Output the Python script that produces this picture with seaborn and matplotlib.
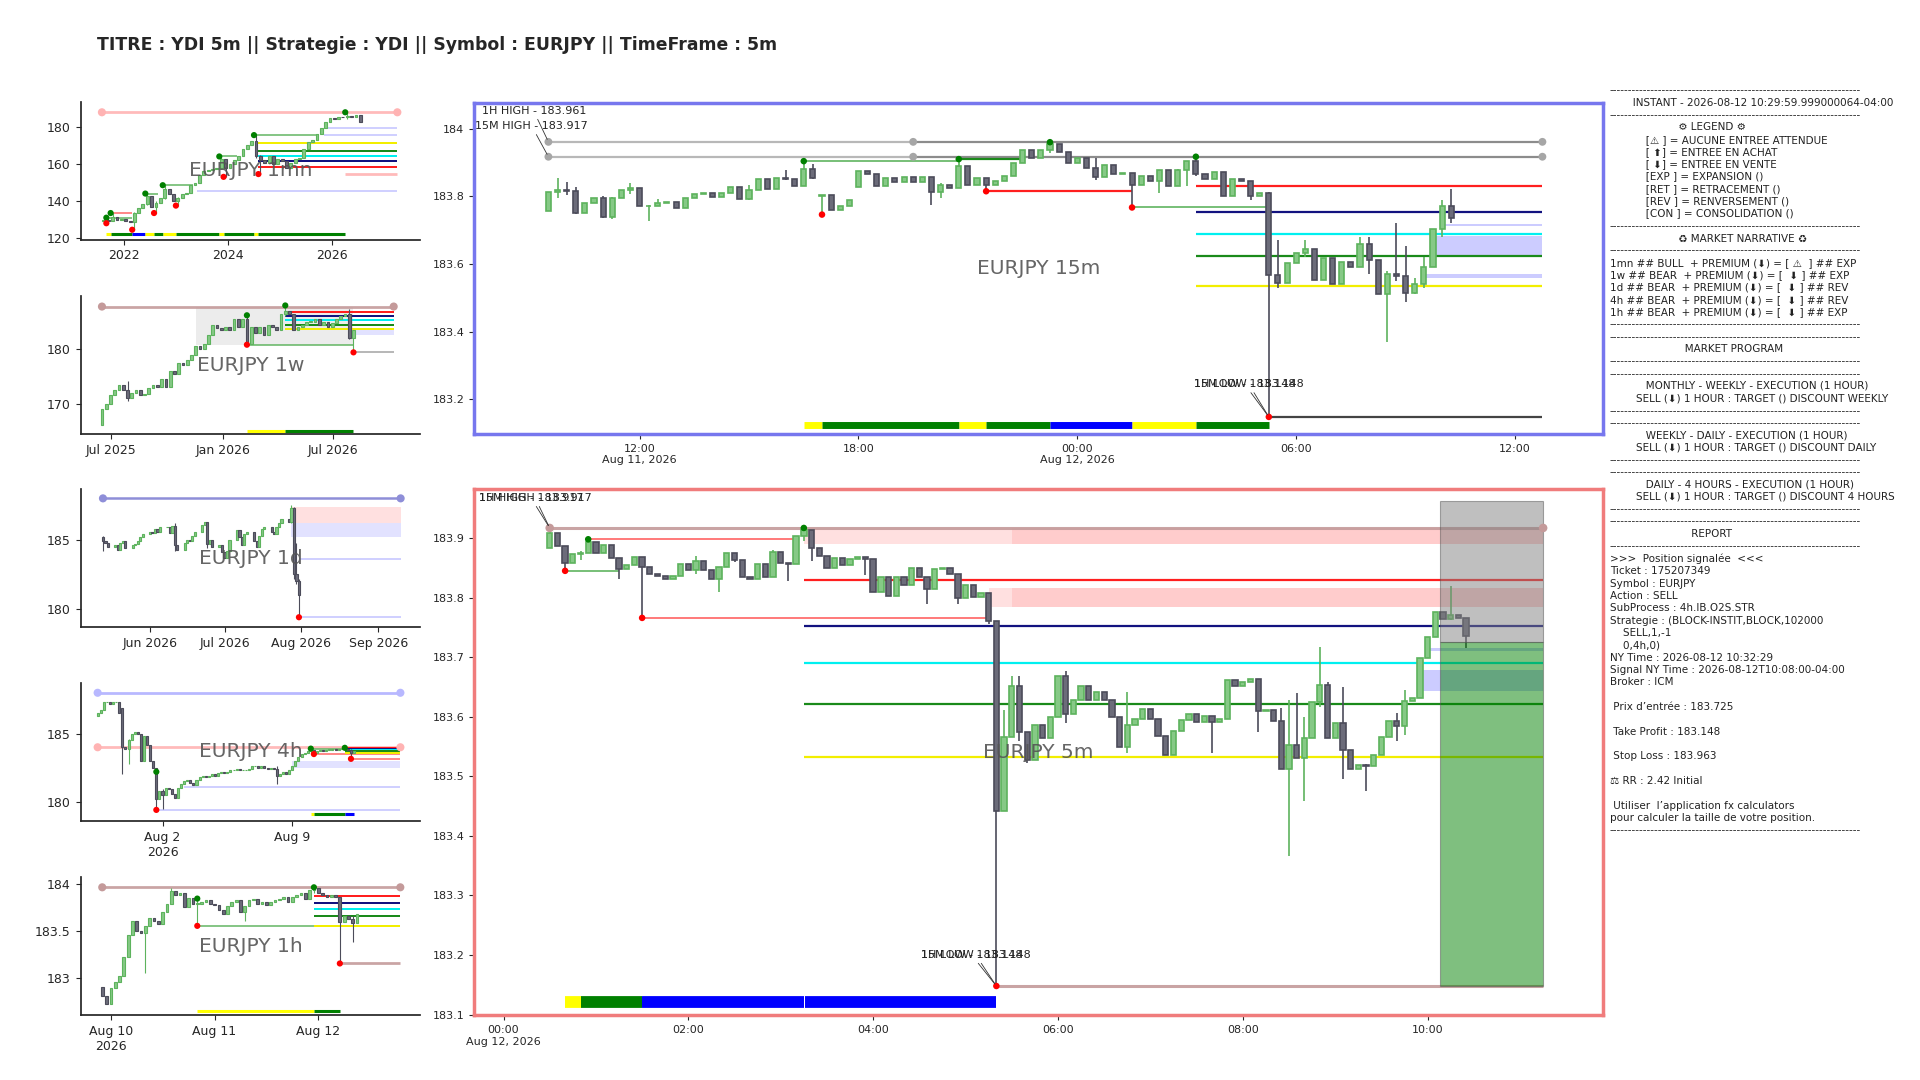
import numpy as np
import pandas as pd
import matplotlib
matplotlib.use("Agg")
import matplotlib.pyplot as plt
import matplotlib.dates as mdates
from matplotlib.ticker import MultipleLocator, FuncFormatter
from matplotlib.patches import Rectangle
from matplotlib import font_manager
from matplotlib.ft2font import FT2Font
import seaborn as sns

# --- Données ---
SYMBOL = "EURJPY"
TITLE = "TITRE : YDI 5m || Strategie : YDI || Symbol : EURJPY || TimeFrame : 5m"
DAY = "2026-08-12 "

# 15m : cloture de chaque bougie, depuis 2026-08-11 09:30
T15_START = "2026-08-11 09:30"
close_15m = [183.812, 183.820, 183.816, 183.752, 183.780, 183.794, 183.739, 183.794, 183.820, 183.824,
             183.770, 183.772, 183.780, 183.784, 183.765, 183.794, 183.806, 183.810, 183.797, 183.810,
             183.827, 183.792, 183.820, 183.852, 183.822, 183.854, 183.852, 183.830, 183.880, 183.854,
             183.805, 183.760, 183.770, 183.790, 183.874, 183.866, 183.830, 183.854, 183.842, 183.856,
             183.842, 183.856, 183.814, 183.834, 183.824, 183.889, 183.834, 183.854, 183.832, 183.844,
             183.860, 183.897, 183.937, 183.914, 183.937, 183.954, 183.932, 183.897, 183.914, 183.884,
             183.857, 183.894, 183.867, 183.870, 183.834, 183.859, 183.846, 183.877, 183.830, 183.879,
             183.904, 183.867, 183.852, 183.872, 183.802, 183.852, 183.846, 183.800, 183.809, 183.567,
             183.544, 183.604, 183.632, 183.644, 183.552, 183.617, 183.540, 183.607, 183.592, 183.660,
             183.612, 183.512, 183.570, 183.564, 183.514, 183.540, 183.592, 183.702, 183.770, 183.737]
open0_15m = 183.757
open_fix_15m = {30: 183.802, 34: 183.827}
wick_15m = {1: (183.854, 183.794), 2: (183.842, 183.805), 3: (183.827, 183.748), 6: (183.800, 183.735),
            7: (183.797, 183.732), 9: (183.838, 183.807), 11: (183.775, 183.727), 12: (183.792, 183.770),
            22: (183.832, 183.790), 26: (183.877, 183.848), 28: (183.904, 183.830), 29: (183.896, 183.850),
            30: (183.805, 183.746), 42: (183.856, 183.774), 43: (183.838, 183.794), 45: (183.910, 183.824),
            48: (183.838, 183.815), 55: (183.960, 183.928), 60: (183.912, 183.847), 64: (183.870, 183.767),
            67: (183.877, 183.810), 69: (183.880, 183.830), 70: (183.904, 183.830), 71: (183.917, 183.860),
            77: (183.815, 183.790), 79: (183.812, 183.148), 80: (183.672, 183.530), 83: (183.670, 183.620),
            89: (183.680, 183.600), 90: (183.680, 183.570), 92: (183.580, 183.370), 93: (183.720, 183.550),
            94: (183.652, 183.487), 95: (183.560, 183.510), 96: (183.620, 183.530), 98: (183.790, 183.680),
            99: (183.822, 183.720)}

# 5m : cloture de chaque bougie, depuis 2026-08-12 00:30
T5_START = DAY + "00:30"
close_5m = [183.908, 183.887, 183.859, 183.873, 183.875, 183.894, 183.875, 183.889, 183.867, 183.848, 183.854, 183.869,
            183.851, 183.840, 183.837, 183.832, 183.837, 183.856, 183.846, 183.861, 183.846, 183.831, 183.851, 183.875,
            183.864, 183.835, 183.831, 183.857, 183.834, 183.877, 183.858, 183.856, 183.903, 183.913, 183.884, 183.870,
            183.850, 183.866, 183.854, 183.865, 183.868, 183.865, 183.809, 183.834, 183.802, 183.834, 183.821, 183.850,
            183.835, 183.815, 183.848, 183.850, 183.839, 183.799, 183.822, 183.801, 183.807, 183.761, 183.441, 183.566,
            183.651, 183.575, 183.528, 183.586, 183.564, 183.600, 183.668, 183.604, 183.629, 183.652, 183.629, 183.641,
            183.629, 183.599, 183.549, 183.586, 183.597, 183.613, 183.597, 183.567, 183.536, 183.576, 183.594, 183.604,
            183.591, 183.602, 183.591, 183.597, 183.662, 183.652, 183.658, 183.664, 183.609, 183.612, 183.593, 183.512,
            183.553, 183.530, 183.565, 183.624, 183.654, 183.564, 183.589, 183.544, 183.512, 183.519, 183.517, 183.536,
            183.566, 183.593, 183.585, 183.626, 183.631, 183.698, 183.734, 183.776, 183.764, 183.771, 183.766, 183.736]
open0_5m = 183.884
wick_5m = {"00:30": (183.917, 183.884), "00:40": (183.887, 183.845), "00:50": (183.879, 183.863),
           "00:55": (183.898, 183.875), "01:15": (183.850, 183.832), "01:30": (183.869, 183.766),
           "02:05": (183.870, 183.840), "02:20": (183.851, 183.809), "02:30": (183.872, 183.860),
           "02:55": (183.880, 183.834), "03:05": (183.858, 183.828), "03:15": (183.917, 183.895),
           "03:20": (183.913, 183.862), "03:55": (183.868, 183.838), "04:35": (183.835, 183.789),
           "04:55": (183.839, 183.790), "05:15": (183.807, 183.755), "05:20": (183.761, 183.148),
           "05:25": (183.612, 183.441), "05:30": (183.668, 183.566), "05:35": (183.668, 183.560),
           "05:40": (183.575, 183.523), "06:05": (183.677, 183.590), "06:45": (183.641, 183.540),
           "07:40": (183.591, 183.540), "08:10": (183.664, 183.575), "08:25": (183.615, 183.512),
           "08:30": (183.628, 183.367), "08:35": (183.640, 183.530), "08:40": (183.600, 183.458),
           "08:50": (183.717, 183.616), "08:55": (183.659, 183.573), "09:05": (183.650, 183.496),
           "09:20": (183.520, 183.475), "09:40": (183.607, 183.560), "09:45": (183.645, 183.570),
           "10:15": (183.820, 183.763), "10:25": (183.766, 183.715)}

# unites superieures
T1MN_START = "2021-08-01"
close_1mn = [129.5, 129.0, 131.5, 129.8, 130.5,
             129.0, 128.5, 133.5, 136.0, 138.5, 142.5, 136.5, 139.0, 141.5, 146.5, 143.5, 140.0,
             141.5, 144.0, 144.5, 148.5, 149.5, 154.0, 156.0, 156.5, 157.5, 158.0, 162.5, 158.0,
             160.0, 162.0, 164.0, 168.0, 170.0, 172.5, 164.5, 162.0, 160.5, 164.0, 160.0, 162.5,
             161.5, 158.0, 160.5, 162.5, 163.0, 168.0, 172.0, 173.0, 176.0, 179.5, 182.5, 184.5,
             184.0, 185.5, 185.0, 186.0, 185.5, 186.5, 182.5]
wick_1mn = {1: (131.0, 128.0), 2: (133.5, 129.0), 7: (134.0, 124.5), 10: (144.0, 138.0), 12: (140.0, 133.5),
            14: (148.5, 141.0), 17: (142.0, 137.5), 27: (164.0, 157.0), 28: (160.5, 153.0),
            35: (175.5, 163.0), 36: (165.0, 154.5), 56: (187.8, 184.0)}

T1W_START = "2025-06-16"
close_1w = [169.0, 170.0, 171.5, 172.5, 173.5, 172.5, 171.0, 172.0, 172.5, 171.5,
            171.8, 172.8, 173.5, 173.0, 174.5, 173.0, 176.0, 175.5, 177.5, 177.0,
            178.0, 179.0, 180.5, 180.0, 181.0, 182.5, 184.5, 183.8, 183.5, 184.0,
            183.5, 185.5, 184.0, 185.5, 181.0, 184.0, 183.0, 184.0, 182.5, 184.5,
            184.0, 183.5, 186.5, 187.0, 186.5, 183.5, 184.0, 184.5, 185.0, 185.0,
            185.5, 184.5, 185.0, 184.0, 184.8, 185.5, 186.0, 186.5, 182.0, 183.5]
wick_1w = {6: (174.2, 170.5), 34: (186.2, 180.8), 43: (188.0, 186.0), 58: (187.3, 181.8), 59: (183.5, 179.4)}

T1D_START = "2026-05-13"
close_1d = [184.9, 184.8, 184.5, 184.6, 184.3, 184.8, 184.9, 184.4, 184.6, 184.7, 184.9, 185.2, 185.4,
            185.6, 185.5, 185.8, 185.6, 185.9, 185.9, 185.5, 186.0, 184.6, 184.3, 184.8, 185.0, 184.9,
            185.3, 185.6, 186.1, 186.3, 184.7, 185.0, 184.5, 184.6, 184.1,
            183.7, 184.2, 185.0, 185.7, 185.2, 184.6, 185.4, 185.6, 184.9, 184.5, 185.3, 185.8, 185.9,
            185.6, 185.4, 185.9, 186.2, 186.5, 186.3, 187.3, 182.5, 182.0, 181.0]
wick_1d = {0: (185.3, 184.2), 21: (186.2, 184.2), 30: (186.3, 184.4), 54: (187.5, 186.2),
           55: (187.4, 182.2), 56: (184.8, 181.8), 57: (182.2, 179.4)}

T4H_START = "2026-07-29 12:00"
close_4h = [186.5, 186.7, 187.3, 187.3, 187.2, 187.3, 187.3, 186.5, 184.0, 183.9,
            184.5, 185.0, 185.1, 185.0, 183.0, 184.8, 184.2, 183.0, 182.5, 180.2,
            180.8, 180.5, 181.0, 180.9, 180.6, 180.3, 181.0, 181.3, 181.5, 181.6,
            181.4, 181.2, 181.6, 181.8, 181.9, 181.8, 181.9, 182.0, 181.9, 182.1,
            182.2, 182.1, 182.2, 182.3, 182.3, 182.4, 182.3, 182.3, 182.35, 182.4,
            182.6, 182.6, 182.5, 182.6, 182.5, 182.4, 182.5, 182.4, 181.9, 182.0,
            182.2, 182.0, 182.3, 182.6, 183.0, 183.3, 183.5, 183.6, 183.7, 183.8,
            183.6, 183.7, 183.8, 183.75, 183.8, 183.8, 183.85, 183.8, 183.85, 183.9,
            183.85, 183.8, 183.6, 183.7]
open_fix_4h = {8: 186.9}
wick_4h = {8: (186.9, 182.0), 10: (184.6, 182.8), 19: (182.2, 179.4), 21: (180.9, 179.5), 58: (182.6, 181.3),
           69: (183.9, 183.6), 70: (183.8, 183.5), 80: (183.96, 183.8), 82: (183.85, 183.15)}

T1H_START = "2026-08-09 22:00"
close_1h = [182.80, 182.72, 182.89, 182.95, 183.02, 183.22, 183.45, 183.60, 183.50, 183.47,
            183.55, 183.63, 183.60, 183.57, 183.70, 183.78, 183.92, 183.88, 183.90, 183.75,
            183.85, 183.78, 183.78, 183.80, 183.82, 183.78, 183.77, 183.72, 183.68, 183.76,
            183.80, 183.82, 183.70, 183.76, 183.82, 183.84, 183.78, 183.80, 183.77, 183.80,
            183.82, 183.84, 183.86, 183.80, 183.86, 183.88, 183.90, 183.84, 183.93, 183.95,
            183.90, 183.88, 183.86, 183.88, 183.86, 183.59, 183.65, 183.62, 183.58, 183.68]
wick_1h = {10: (183.55, 183.05), 16: (183.95, 183.78), 22: (183.84, 183.55), 33: (183.76, 183.60),
           49: (183.96, 183.90), 55: (183.86, 183.15), 58: (183.66, 183.38)}

# niveaux : (prix, debut, fin, type)
E15 = "2026-08-12 12:45"
levels_15m = [(183.961, "2026-08-11 09:30", "2026-08-11 19:30", "gray"),
              (183.961, "2026-08-11 19:30", E15, "dgray"),
              (183.917, "2026-08-11 09:30", "2026-08-11 19:30", "gray"),
              (183.917, "2026-08-11 19:30", E15, "dgray"),
              (183.904, "2026-08-11 16:30", "2026-08-11 20:45", "lgreen"),
              (183.910, "2026-08-11 20:45", "2026-08-11 22:30", "green"),
              (183.815, "2026-08-11 21:30", "2026-08-12 01:30", "red"),
              (183.767, "2026-08-12 01:30", "2026-08-12 05:15", "lgreen"),
              (183.830, "2026-08-12 03:15", E15, "red"),
              (183.754, "2026-08-12 03:15", E15, "navy"),
              (183.690, "2026-08-12 03:15", E15, "cyan"),
              (183.625, "2026-08-12 03:15", E15, "green"),
              (183.535, "2026-08-12 03:15", E15, "yellow"),
              (183.148, "2026-08-12 05:15", E15, "black")]
zones_15m = [(183.711, 183.717, "2026-08-12 10:00", E15, "lavz"),
             (183.627, 183.682, "2026-08-12 09:45", E15, "lavz"),
             (183.560, 183.570, "2026-08-12 09:30", E15, "lavz")]
dots_15m = [("2026-08-11 09:30", 183.961, "gray"), ("2026-08-11 19:30", 183.961, "gray"), (E15, 183.961, "gray"),
            ("2026-08-11 09:30", 183.917, "gray"), ("2026-08-11 19:30", 183.917, "gray"), (E15, 183.917, "gray"),
            ("2026-08-11 16:30", 183.904, "up"), ("2026-08-11 20:45", 183.910, "up"),
            ("2026-08-11 23:15", 183.960, "up"), ("2026-08-12 03:15", 183.917, "up"),
            ("2026-08-11 17:00", 183.746, "dn"), ("2026-08-11 21:30", 183.815, "dn"),
            ("2026-08-12 01:30", 183.767, "dn"), ("2026-08-12 05:15", 183.148, "dn")]
bar_15m = [("2026-08-11 16:30", "2026-08-11 17:00", "Y"), ("2026-08-11 17:00", "2026-08-11 20:45", "G"),
           ("2026-08-11 20:45", "2026-08-11 21:30", "Y"), ("2026-08-11 21:30", "2026-08-11 23:15", "G"),
           ("2026-08-11 23:15", "2026-08-12 01:30", "B"), ("2026-08-12 01:30", "2026-08-12 03:15", "Y"),
           ("2026-08-12 03:15", "2026-08-12 05:15", "G")]
bar_y_15m = 183.125
notes_15m = [("1H HIGH - 183.961", "2026-08-11 07:40", 184.052, "2026-08-11 09:30", 183.961),
             ("15M HIGH - 183.917", "2026-08-11 07:30", 184.007, "2026-08-11 09:30", 183.917),
             ("1H LOW - 183.148", "2026-08-12 03:12", 183.244, "2026-08-12 05:15", 183.148),
             ("15M LOW - 183.148", "2026-08-12 03:12", 183.244, "2026-08-12 05:15", 183.148)]

E5 = DAY + "11:15"
levels_5m = [(183.917, DAY + "00:30", E5, "rosy"),
             (183.898, DAY + "00:55", DAY + "03:10", "lred"),
             (183.845, DAY + "00:40", DAY + "01:15", "lgreen"),
             (183.766, DAY + "01:30", DAY + "05:15", "lred"),
             (183.829, DAY + "03:15", E5, "red"),
             (183.752, DAY + "03:15", E5, "navy"),
             (183.690, DAY + "03:15", E5, "cyan"),
             (183.622, DAY + "03:15", E5, "green"),
             (183.533, DAY + "03:15", E5, "yellow"),
             (183.148, DAY + "05:20", E5, "rosy")]
zones_5m = [(183.890, 183.917, DAY + "03:15", DAY + "05:30", "pinkz"),
            (183.890, 183.917, DAY + "05:30", E5, "pinkz2"),
            (183.785, 183.816, DAY + "05:15", DAY + "05:30", "pinkz"),
            (183.785, 183.816, DAY + "05:30", E5, "pinkz2"),
            (183.644, 183.679, DAY + "09:55", E5, "lavz"),
            (183.711, 183.715, DAY + "10:00", E5, "lavz")]
dots_5m = [(DAY + "00:30", 183.917, "rosy"), (E5, 183.917, "rosy"), (DAY + "00:40", 183.845, "dn"),
           (DAY + "00:55", 183.898, "up"), (DAY + "01:30", 183.766, "dn"), (DAY + "03:15", 183.917, "up"),
           (DAY + "05:20", 183.148, "dn")]
bar_5m = [(DAY + "00:40", DAY + "00:50", "Y"), (DAY + "00:50", DAY + "01:30", "G"),
          (DAY + "01:30", DAY + "03:15", "B"), (DAY + "03:16", DAY + "05:20", "B")]
bar_y_5m = 183.121
notes_5m = [("15M HIGH - 183.917", "2026-08-11 23:44", 183.967, DAY + "00:30", 183.917),
            ("1H HIGH - 183.917", "2026-08-11 23:44", 183.967, DAY + "00:30", 183.917),
            ("15M LOW - 183.148", DAY + "04:31", 183.200, DAY + "05:20", 183.148),
            ("1H LOW - 183.148", DAY + "04:31", 183.200, DAY + "05:20", 183.148)]
ENTRY, TAKE_PROFIT, STOP_LOSS = 183.725, 183.148, 183.963
SIGNAL_TIME = DAY + "10:08"

E1MN = "2027-04-01"
levels_1mn = [(187.8, "2021-08-01", E1MN, "pink"), (179.2, "2025-11-01", E1MN, "lav"),
              (175.5, "2025-11-01", E1MN, "lav"), (145.5, "2023-06-01", E1MN, "lav"),
              (171.0, "2024-08-01", E1MN, "yellow"), (167.0, "2024-08-01", E1MN, "green"),
              (164.3, "2024-08-01", E1MN, "cyan"), (161.5, "2024-08-01", E1MN, "navy"),
              (158.2, "2024-08-01", E1MN, "red"), (154.3, "2026-04-01", E1MN, "pink"),
              (131.0, "2021-09-01", "2022-03-01", "lgreen"), (133.5, "2021-10-01", "2022-03-01", "lred"),
              (144.0, "2022-06-01", "2022-09-01", "lgreen"), (148.5, "2022-10-01", "2023-05-01", "lgreen"),
              (164.0, "2023-11-01", "2024-03-01", "lgreen"), (175.5, "2024-07-01", "2025-10-01", "lgreen")]
dots_1mn = [("2021-09-01", 131.0, "up"), ("2021-10-01", 133.5, "up"), ("2022-06-01", 144.0, "up"),
            ("2022-10-01", 148.5, "up"), ("2023-11-01", 164.0, "up"), ("2024-07-01", 175.5, "up"),
            ("2026-04-01", 187.8, "up"), ("2021-09-01", 128.0, "dn"), ("2022-03-01", 124.5, "dn"),
            ("2022-08-01", 133.5, "dn"), ("2023-01-01", 137.5, "dn"), ("2023-12-01", 153.0, "dn"),
            ("2024-08-01", 154.5, "dn"), ("2021-08-01", 187.8, "pink"), (E1MN, 187.8, "pink")]
bar_1mn = [("2021-09-01", "2021-10-01", "Y"), ("2021-10-01", "2022-03-01", "G"), ("2022-03-01", "2022-06-01", "B"),
           ("2022-06-01", "2022-08-01", "Y"), ("2022-08-01", "2022-10-01", "G"), ("2022-10-01", "2023-01-01", "Y"),
           ("2023-01-01", "2023-11-01", "G"), ("2023-11-01", "2023-12-01", "Y"), ("2023-12-01", "2024-07-01", "G"),
           ("2024-07-01", "2024-08-01", "Y"), ("2024-08-01", "2026-04-01", "G")]
bar_y_1mn = 122.0

E1W = "2026-10-08"
levels_1w = [(187.8, "2025-06-16", E1W, "rosy"), (186.8, "2026-04-13", E1W, "red"),
             (186.0, "2026-04-13", E1W, "navy"), (185.3, "2026-04-13", E1W, "cyan"),
             (184.5, "2026-04-13", E1W, "green"), (183.6, "2026-04-13", E1W, "yellow"),
             (180.8, "2026-02-09", "2026-08-03", "lgreen"), (179.4, "2026-08-03", E1W, "gray")]
zones_1w = [(180.8, 187.8, "2025-11-17", "2026-08-03", "grayz"), (182.6, 183.6, "2026-07-27", E1W, "lavz2")]
dots_1w = [("2026-02-09", 186.2, "up"), ("2026-04-13", 188.0, "up"), ("2026-02-09", 180.8, "dn"),
           ("2026-08-03", 179.4, "dn"), ("2025-06-16", 187.8, "rosy"), (E1W, 187.8, "rosy")]
bar_1w = [("2026-02-09", "2026-04-13", "Y"), ("2026-04-13", "2026-08-03", "G")]
bar_y_1w = 165.0

E1D = "2026-09-10"
levels_1d = [(188.0, "2026-05-13", E1D, "lavd"), (183.6, "2026-07-31", E1D, "lav"), (179.4, "2026-07-31", E1D, "lav")]
zones_1d = [(186.2, 187.4, "2026-07-28", E1D, "pinkz"), (185.2, 186.2, "2026-07-28", E1D, "lavz2")]
dots_1d = [("2026-07-31", 179.4, "dn"), ("2026-05-13", 188.0, "lavd"), (E1D, 188.0, "lavd")]

E4H = "2026-08-14 20:00"
levels_4h = [(188.0, T4H_START, E4H, "lavm"), (184.0, T4H_START, E4H, "pink"),
             (181.1, "2026-08-03 04:00", E4H, "lav"), (179.4, "2026-08-01 20:00", E4H, "lav"),
             (183.9, "2026-08-10 00:00", "2026-08-11 20:00", "lgreen"), (183.5, "2026-08-10 04:00", E4H, "lred"),
             (183.15, "2026-08-12 04:00", E4H, "lred"), (183.93, "2026-08-11 20:00", E4H, "red"),
             (183.85, "2026-08-11 20:00", E4H, "navy"), (183.78, "2026-08-11 20:00", E4H, "cyan"),
             (183.70, "2026-08-11 20:00", E4H, "green"), (183.60, "2026-08-11 20:00", E4H, "yellow")]
zones_4h = [(182.5, 183.0, "2026-08-09 00:00", E4H, "lavz2")]
dots_4h = [("2026-08-01 16:00", 182.2, "up"), ("2026-08-01 16:00", 179.4, "dn"), ("2026-08-10 00:00", 183.9, "up"),
           ("2026-08-10 04:00", 183.5, "dn"), ("2026-08-11 20:00", 183.96, "up"), ("2026-08-12 04:00", 183.15, "dn"),
           (T4H_START, 188.0, "lavm"), (E4H, 188.0, "lavm"), (T4H_START, 184.0, "pink"), (E4H, 184.0, "pink")]
bar_4h = [("2026-08-10 00:00", "2026-08-10 04:00", "Y"), ("2026-08-10 04:00", "2026-08-11 20:00", "G"),
          ("2026-08-11 20:00", "2026-08-12 08:00", "B")]
bar_y_4h = 179.1

E1H = "2026-08-12 19:00"
levels_1h = [(183.96, T1H_START, E1H, "rosy"), (183.55, "2026-08-10 20:00", E1H, "lgreen"),
             (183.87, "2026-08-11 23:00", E1H, "red"), (183.79, "2026-08-11 23:00", E1H, "navy"),
             (183.73, "2026-08-11 23:00", E1H, "cyan"), (183.65, "2026-08-11 23:00", E1H, "green"),
             (183.55, "2026-08-11 23:00", E1H, "yellow"), (183.15, "2026-08-12 05:00", E1H, "rosy")]
dots_1h = [("2026-08-10 20:00", 183.84, "up"), ("2026-08-10 20:00", 183.55, "dn"), ("2026-08-11 23:00", 183.96, "up"),
           ("2026-08-12 05:00", 183.15, "dn"), (T1H_START, 183.96, "rosy"), (E1H, 183.96, "rosy")]
bar_1h = [("2026-08-10 20:00", "2026-08-11 23:00", "Y"), ("2026-08-11 23:00", "2026-08-12 05:00", "G")]
bar_y_1h = 182.64

# --- Panneau texte ---
DASH = "-" * 67
report_lines = [
    DASH,
    "      \u23f1 INSTANT - 2026-08-12 10:29:59.999000064-04:00 \u23f1",
    DASH,
    "                     \u2754\u2699 LEGEND \u2699\u2754",
    "           [\u26a0 \U0001F441] = AUCUNE ENTREE ATTENDUE",
    "           [\U0001F3AF \u2b06] = ENTREE EN ACHAT",
    "           [\U0001F3AF \u2b07] = ENTREE EN VENTE",
    "           [EXP \U0001F7E9] = EXPANSION (\U0001F7E9)",
    "           [RET \U0001F7E8] = RETRACEMENT (\U0001F7E8)",
    "           [REV \U0001F7E6] = RENVERSEMENT (\U0001F7E6)",
    "           [CON \U0001F7E7] = CONSOLIDATION (\U0001F7E7)",
    DASH,
    "                     \u267b MARKET NARRATIVE \u267b",
    DASH,
    "1mn ## BULL \U0001F4C8 + PREMIUM \U0001F4B0(\u2b07) = [ \u26a0 \U0001F441 ] ## EXP \U0001F7E9",
    "1w ## BEAR \U0001F4C9 + PREMIUM \U0001F4B0(\u2b07) = [ \U0001F3AF \u2b07 ] ## EXP \U0001F7E9",
    "1d ## BEAR \U0001F4C9 + PREMIUM \U0001F4B0(\u2b07) = [ \U0001F3AF \u2b07 ] ## REV \U0001F7E6",
    "4h ## BEAR \U0001F4C9 + PREMIUM \U0001F4B0(\u2b07) = [ \U0001F3AF \u2b07 ] ## REV \U0001F7E6",
    "1h ## BEAR \U0001F4C9 + PREMIUM \U0001F4B0(\u2b07) = [ \U0001F3AF \u2b07 ] ## EXP \U0001F7E9",
    DASH, DASH,
    "                      \u23f0 MARKET PROGRAM \u23f0",
    DASH, DASH,
    "           MONTHLY - WEEKLY - EXECUTION (1 HOUR)",
    "        SELL (\u2b07) 1 HOUR : TARGET (\U0001F3AF) DISCOUNT WEEKLY",
    DASH, DASH,
    "           WEEKLY - DAILY - EXECUTION (1 HOUR)",
    "        SELL (\u2b07) 1 HOUR : TARGET (\U0001F3AF) DISCOUNT DAILY",
    DASH, DASH,
    "           DAILY - 4 HOURS - EXECUTION (1 HOUR)",
    "        SELL (\u2b07) 1 HOUR : TARGET (\U0001F3AF) DISCOUNT 4 HOURS",
    DASH, DASH,
    "                         \U0001F4CAREPORT\U0001F4CA",
    DASH,
    ">>> \U0001F4FA Position signalée \U0001F4FA <<<",
    "Ticket : 175207349",
    "Symbol : EURJPY",
    "Action : SELL",
    "SubProcess : 4h.IB.O2S.STR",
    "Strategie : (BLOCK-INSTIT,BLOCK,102000",
    "    SELL,1,-1",
    "    0,4h,0)",
    "NY Time : 2026-08-12 10:32:29",
    "Signal NY Time : 2026-08-12T10:08:00-04:00",
    "Broker : ICM",
    "",
    "\U0001F3AF Prix d\u2019entrée : 183.725",
    "",
    "\U0001F4B6 Take Profit : 183.148",
    "",
    "\u274c Stop Loss : 183.963",
    "",
    "\u2696 RR : 2.42 Initial",
    "",
    "\U0001F4A1 Utiliser  l\u2019application fx calculators",
    "pour calculer la taille de votre position.",
    DASH,
]

# --- Styles ---
UP_FILL, UP_EDGE = "#86c986", "#5db35d"
DN_FILL, DN_EDGE = "#6c6c7a", "#4c4c5a"
LEVEL_STYLE = {"red": ("#ff1f1f", 1.6, 1.0), "lred": ("#ff6b6b", 1.4, 0.9), "navy": ("#12127f", 1.6, 1.0),
               "cyan": ("#00f0f0", 1.6, 1.0), "green": ("#1a8a1a", 1.6, 1.0), "lgreen": ("#5fb35f", 1.4, 0.85),
               "yellow": ("#f2ee00", 1.6, 1.0), "gray": ("#b8b8b8", 1.6, 1.0), "dgray": ("#8c8c8c", 1.6, 1.0),
               "black": ("#444444", 1.6, 1.0), "rosy": ("#c49a9a", 2.2, 0.9), "pink": ("#ffb3b3", 2.2, 0.9),
               "lav": ("#d0d0ff", 1.6, 1.0), "lavd": ("#8e8ed8", 2.0, 1.0), "lavm": ("#b8b8ff", 2.2, 1.0)}
ZONE_COL = {"lavz": "#ccccff", "lavz2": "#e2e2ff", "pinkz": "#ffe0e0", "pinkz2": "#ffcccc", "grayz": "#ececec"}
BAR_COL = {"Y": "#ffff00", "G": "#008000", "B": "#0000ff"}
DOT_COL = {"up": "#008000", "dn": "#ff0000", "gray": "#a6a6a6", "rosy": "#c49a9a", "pink": "#ffb3b3",
           "lavd": "#8e8ed8", "lavm": "#b8b8ff"}
DOT_SIZE = {"up": 22, "dn": 22, "gray": 32, "rosy": 38, "pink": 38, "lavd": 38, "lavm": 38}

sns.set_theme(style="ticks")
plt.rcParams["font.family"] = ["DejaVu Sans", "Noto Sans CJK SC"]


def tnum(t):
    return mdates.date2num(pd.Timestamp(t))


def build_ohlc(closes, first_open, wicks, open_fix=None):
    c = np.asarray(closes, float)
    o = np.concatenate([[first_open], c[:-1]])
    for i, v in (open_fix or {}).items():
        o[i] = v
    h = np.maximum(o, c)
    l = np.minimum(o, c)
    for i, (hi, lo) in wicks.items():
        h[i] = max(h[i], hi)
        l[i] = min(l[i], lo)
    return o, h, l, c


def draw_candles(ax, times, ohlc, width, lw, min_h):
    o, h, l, c = ohlc
    x = mdates.date2num(times)
    up = c >= o
    fill = np.where(up, UP_FILL, DN_FILL).tolist()
    edge = np.where(up, UP_EDGE, DN_EDGE).tolist()
    ax.vlines(x, l, h, colors=edge, lw=lw, zorder=3)
    body = c - o
    body = np.where(np.abs(body) < min_h, np.where(up, min_h, -min_h), body)
    ax.bar(x, body, bottom=o, width=width, color=fill, edgecolor=edge, linewidth=lw, zorder=4)


def draw_levels(ax, levels, scale=1.0):
    for price, t0, t1, kind in levels:
        col, lw, a = LEVEL_STYLE[kind]
        ax.hlines(price, tnum(t0), tnum(t1), colors=col, lw=lw * scale, alpha=a, zorder=2)


def draw_zones(ax, zones):
    for lo, hi, t0, t1, kind in zones:
        ax.fill_between([tnum(t0), tnum(t1)], lo, hi, color=ZONE_COL[kind], lw=0, zorder=1)


def draw_bar(ax, y, segs, lw):
    for t0, t1, kind in segs:
        ax.hlines(y, tnum(t0), tnum(t1), colors=BAR_COL[kind], lw=lw, zorder=2)


def draw_dots(ax, dots, scale=1.0):
    df = pd.DataFrame(dots, columns=["t", "price", "kind"])
    df["x"] = df["t"].map(tnum)
    kinds = df["kind"].unique()
    sns.scatterplot(data=df, x="x", y="price", hue="kind", size="kind",
                    palette={k: DOT_COL[k] for k in kinds},
                    sizes={k: DOT_SIZE[k] * scale for k in kinds},
                    edgecolor="none", legend=False, ax=ax, zorder=6)
    ax.set_xlabel("")
    ax.set_ylabel("")


def draw_notes(ax, notes, fs):
    for txt, tx, ty, px, py in notes:
        ax.annotate(txt, xy=(tnum(px), py), xytext=(tnum(tx), ty), fontsize=fs, ha="left", va="center",
                    color="#222222", zorder=8,
                    arrowprops=dict(arrowstyle="-", color="#333333", lw=0.6, shrinkA=0, shrinkB=2))


def style_panel(ax, name, xlim, ylim, ystep, fs):
    ax.set_xlim(tnum(xlim[0]), tnum(xlim[1]))
    ax.set_ylim(*ylim)
    ax.yaxis.set_major_locator(MultipleLocator(ystep))
    ax.yaxis.set_major_formatter(FuncFormatter(lambda v, p: f"{v:g}"))
    ax.tick_params(labelsize=fs, length=3.5, width=0.8)
    ax.text(0.5, 0.5, name, transform=ax.transAxes, ha="center", va="center",
            fontsize=14.6, color="#555555", alpha=0.9, zorder=10)


def hour_formatter(ax, step):
    def f(x, pos):
        d = mdates.num2date(x)
        s = d.strftime("%H:%M")
        if d.hour == 0 or x - step < ax.get_xlim()[0]:
            s += "\n" + d.strftime("%b %d, %Y")
        return s
    return FuncFormatter(f)


def day_formatter(ax, step):
    def f(x, pos):
        d = mdates.num2date(x)
        s = f"{d:%b} {d.day}"
        if x - step < ax.get_xlim()[0]:
            s += f"\n{d:%Y}"
        return s
    return FuncFormatter(f)


def frame(ax, color):
    for sp in ax.spines.values():
        sp.set_visible(True)
        sp.set_color(color)
        sp.set_linewidth(2.5)


fig = plt.figure(figsize=(19.2, 10.8), dpi=100)
fig.text(0.0505, 0.958, TITLE, fontsize=12.4, fontweight="bold", va="center", ha="left")

small_bottoms = [0.778, 0.598, 0.419, 0.240, 0.060]
ax_mn, ax_w, ax_d, ax_4h, ax_1h = [fig.add_axes([0.042, b, 0.177, 0.128]) for b in small_bottoms]
ax15 = fig.add_axes([0.247, 0.598, 0.588, 0.307])
ax5 = fig.add_axes([0.247, 0.060, 0.588, 0.487])

# --- 1mn ---
t = pd.date_range(T1MN_START, periods=len(close_1mn), freq="MS") + pd.Timedelta(days=14)
draw_levels(ax_mn, levels_1mn, 0.9)
draw_candles(ax_mn, t, build_ohlc(close_1mn, 129.0, wick_1mn), 20, 0.8, 0.3)
draw_bar(ax_mn, bar_y_1mn, bar_1mn, 2.2)
draw_dots(ax_mn, dots_1mn, 0.9)
style_panel(ax_mn, f"{SYMBOL} 1mn", ("2021-03-05", "2027-09-10"), (119.1, 193.6), 20, 9)
ax_mn.xaxis.set_major_locator(mdates.YearLocator(2))
ax_mn.xaxis.set_major_formatter(mdates.DateFormatter("%Y"))

# --- 1w ---
t = pd.date_range(T1W_START, periods=len(close_1w), freq="7D")
draw_zones(ax_w, zones_1w)
draw_levels(ax_w, levels_1w, 0.9)
draw_candles(ax_w, t, build_ohlc(close_1w, 166.0, wick_1w), 4.5, 0.8, 0.1)
draw_bar(ax_w, bar_y_1w, bar_1w, 2.2)
draw_dots(ax_w, dots_1w, 0.9)
style_panel(ax_w, f"{SYMBOL} 1w", ("2025-05-12", "2026-11-21"), (164.4, 189.75), 10, 9)
ax_w.xaxis.set_major_locator(mdates.MonthLocator(bymonth=[1, 7]))
ax_w.xaxis.set_major_formatter(mdates.DateFormatter("%b %Y"))

# --- 1d ---
t = pd.bdate_range(T1D_START, periods=len(close_1d))
draw_zones(ax_d, zones_1d)
draw_levels(ax_d, levels_1d, 0.9)
draw_candles(ax_d, t, build_ohlc(close_1d, 185.2, wick_1d), 0.9, 0.8, 0.05)
draw_dots(ax_d, dots_1d, 0.9)
style_panel(ax_d, f"{SYMBOL} 1d", ("2026-05-04", "2026-09-18"), (178.66, 188.66), 5, 9)
ax_d.xaxis.set_major_locator(mdates.MonthLocator())
ax_d.xaxis.set_major_formatter(mdates.DateFormatter("%b %Y"))

# --- 4h ---
t = pd.date_range(T4H_START, periods=len(close_4h), freq="4h")
draw_zones(ax_4h, zones_4h)
draw_levels(ax_4h, levels_4h, 0.9)
draw_candles(ax_4h, t, build_ohlc(close_4h, 186.3, wick_4h, open_fix_4h), 0.11, 0.8, 0.05)
draw_bar(ax_4h, bar_y_4h, bar_4h, 2.2)
draw_dots(ax_4h, dots_4h, 0.9)
style_panel(ax_4h, f"{SYMBOL} 4h", ("2026-07-28 14:00", "2026-08-15 22:00"), (178.6, 188.75), 5, 9)
ax_4h.xaxis.set_major_locator(mdates.WeekdayLocator(byweekday=mdates.SU))
ax_4h.xaxis.set_major_formatter(day_formatter(ax_4h, 7))

# --- 1h ---
t = pd.date_range(T1H_START, periods=len(close_1h), freq="1h")
draw_levels(ax_1h, levels_1h, 0.9)
draw_candles(ax_1h, t, build_ohlc(close_1h, 182.90, wick_1h), 0.026, 0.8, 0.008)
draw_bar(ax_1h, bar_y_1h, bar_1h, 2.2)
draw_dots(ax_1h, dots_1h, 0.9)
style_panel(ax_1h, f"{SYMBOL} 1h", ("2026-08-09 17:00", "2026-08-12 23:40"), (182.6, 184.07), 0.5, 9)
ax_1h.xaxis.set_major_locator(mdates.DayLocator())
ax_1h.xaxis.set_major_formatter(day_formatter(ax_1h, 1))

for ax in (ax_mn, ax_w, ax_d, ax_4h, ax_1h):
    sns.despine(ax=ax)

# --- 15m ---
t = pd.date_range(T15_START, periods=len(close_15m), freq="15min")
draw_zones(ax15, zones_15m)
draw_levels(ax15, levels_15m)
draw_candles(ax15, t, build_ohlc(close_15m, open0_15m, wick_15m, open_fix_15m), 0.0058, 1.2, 0.002)
draw_bar(ax15, bar_y_15m, bar_15m, 5)
draw_dots(ax15, dots_15m)
draw_notes(ax15, notes_15m, 8)
style_panel(ax15, f"{SYMBOL} 15m", ("2026-08-11 07:28", "2026-08-12 14:25"), (183.097, 184.077), 0.2, 8)
ax15.xaxis.set_major_locator(mdates.HourLocator(byhour=[0, 6, 12, 18]))
ax15.xaxis.set_major_formatter(hour_formatter(ax15, 0.25))
frame(ax15, "#7777ee")

# --- 5m ---
t5 = pd.date_range(T5_START, periods=len(close_5m), freq="5min")
wick_5m_idx = {int((pd.Timestamp(DAY + k) - t5[0]) / pd.Timedelta("5min")): v for k, v in wick_5m.items()}
draw_zones(ax5, zones_5m)
x0, x1 = tnum(SIGNAL_TIME), tnum(E5)
ax5.add_patch(Rectangle((x0, ENTRY), x1 - x0, STOP_LOSS - ENTRY, facecolor="#808080", alpha=0.5,
                        edgecolor="#555555", lw=0.8, zorder=5))
ax5.add_patch(Rectangle((x0, TAKE_PROFIT), x1 - x0, ENTRY - TAKE_PROFIT, facecolor="#008000", alpha=0.5,
                        edgecolor="#555555", lw=0.8, zorder=5))
draw_levels(ax5, levels_5m)
draw_candles(ax5, t5, build_ohlc(close_5m, open0_5m, wick_5m_idx), 0.0024, 1.2, 0.0015)
draw_bar(ax5, bar_y_5m, bar_5m, 8.5)
draw_dots(ax5, dots_5m)
draw_notes(ax5, notes_5m, 8)
style_panel(ax5, f"{SYMBOL} 5m", ("2026-08-11 23:41", "2026-08-12 11:54"), (183.099, 183.982), 0.1, 8)
ax5.xaxis.set_major_locator(mdates.HourLocator(byhour=range(0, 24, 2)))
ax5.xaxis.set_major_formatter(hour_formatter(ax5, 2 / 24))
frame(ax5, "#f07c7c")


# --- Texte du rapport (on retire les glyphes absents des polices installees) ---
def font_chars(family):
    try:
        path = font_manager.findfont(font_manager.FontProperties(family=family), fallback_to_default=False)
        return set(FT2Font(path).get_charmap().keys())
    except Exception:
        return set()


available = font_chars("DejaVu Sans") | font_chars("Noto Sans CJK SC")
clean = ["".join(ch for ch in line if ch == " " or ord(ch) in available) for line in report_lines]
fig.text(0.8385, 0.921, "\n".join(clean), ha="left", va="top", fontsize=7.5, linespacing=1.29, color="#222222")

fig.savefig("out.png", dpi=100)
